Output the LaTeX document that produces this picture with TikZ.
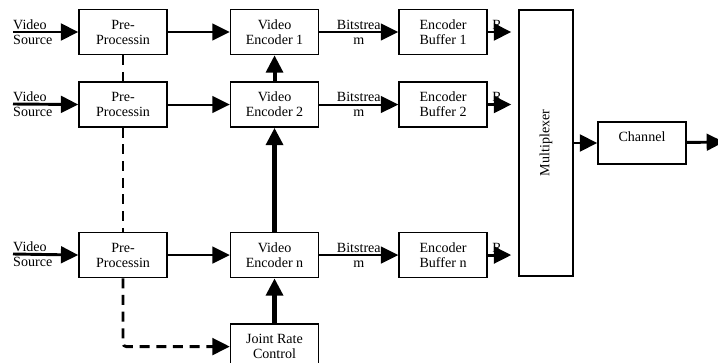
\documentclass[tikz,border=0pt]{standalone}
\usepackage{fontspec}
\setmainfont{Liberation Serif}
\usetikzlibrary{positioning,arrows.meta}

\begin{document}
\begin{tikzpicture}[x=0.03cm,y=-0.03cm,
	nodes={font=\fontsize{12}{12.8}\selectfont, align=center, inner sep=0pt},
	box/.style={draw, line width=1.3pt, minimum width=2.64cm, minimum height=1.35cm},
	arr/.style={-{Triangle[length=0.52cm,width=0.5cm]}, line width=1.7pt},
	fatarr/.style={arr, line width=2.5pt},
	dash line/.style={arr, line width=2.5pt, dash pattern=on 0.3cm off 0.2cm, rounded corners=0.1cm}]
	\useasboundingbox (0,0) rectangle (718,363);
	\clip (0,0) rectangle (718,363);

	\node (pre1) [box] at (123,32) {Pre-\\Processin};
	\node (enc1) [box, right=1.86cm of pre1] {Video\\Encoder 1};
	\node (buf1) [box, right=2.37cm of enc1] {Encoder\\Buffer 1};
	\node (pre2) [box, below=0.78cm of pre1] {Pre-\\Processin};
	\node (enc2) [box, right=1.86cm of pre2] {Video\\Encoder 2};
	\node (buf2) [box, right=2.37cm of enc2] {Encoder\\Buffer 2};
	\node (pren) [box, below=3.12cm of pre2] {Pre-\\Processin};
	\node (encn) [box, right=1.86cm of pren] {Video\\Encoder n};
	\node (bufn) [box, right=2.37cm of encn] {Encoder\\Buffer n};
	\node (jrc) [box, below=1.35cm of encn] {Joint Rate\\Control};
	\node (mux) [box, minimum width=1.62cm, minimum height=7.98cm] at (546,143) {\rotatebox{90}{Multiplexer}};
	\node (chan) [box, minimum height=1.26cm] at (642,143) {\raisebox{0.4cm}{Channel}};

	\node (src1) [anchor=west, align=left] at (13,32) {Video\\Source};
	\node (src2) [anchor=west, align=left] at (13,104) {Video\\Source};
	\node (srcn) [anchor=west, align=left] at (13,254) {Video\\Source};
	\coordinate (out) at (724,142);

	\draw[fatarr] (src1.west) -- (pre1.west);
	\draw[fatarr] (src2.west) -- (pre2.west);
	\draw[fatarr] (srcn.west) -- (pren.west);
	\draw[arr] (pre1) -- (enc1);
	\draw[arr] (pre2) -- (enc2);
	\draw[arr] (pren) -- (encn);
	\draw[arr] (enc1) -- node {Bitstrea\\m} (buf1);
	\draw[arr] (enc2) -- node {Bitstrea\\m} (buf2);
	\draw[arr] (encn) -- node {Bitstrea\\m} (bufn);
	\draw[fatarr, shorten >=0.21cm] (buf1) -- node[pos=0.3, above, inner sep=1pt] {R} (buf1 -| mux.west);
	\draw[fatarr, shorten >=0.21cm] (buf2) -- node[pos=0.3, above, inner sep=1pt] {R} (buf2 -| mux.west);
	\draw[fatarr, shorten >=0.21cm] (bufn) -- node[pos=0.3, above, inner sep=1pt] {R} (bufn -| mux.west);
	\draw[fatarr] (mux) -- (chan);
	\draw[fatarr] (chan) -- (out);

	\draw[arr, line width=3.4pt] (enc2) -- (enc1);
	\draw[arr, line width=5pt] (encn) -- (enc2);
	\draw[arr, line width=4.2pt] (jrc) -- (encn);

	\draw[dash line, -] (pre1) -- (pre2);
	\draw[dash line, -] (pre2) -- (pren);
	\draw[dash line] (pren) |- (jrc);
\end{tikzpicture}
\end{document}
